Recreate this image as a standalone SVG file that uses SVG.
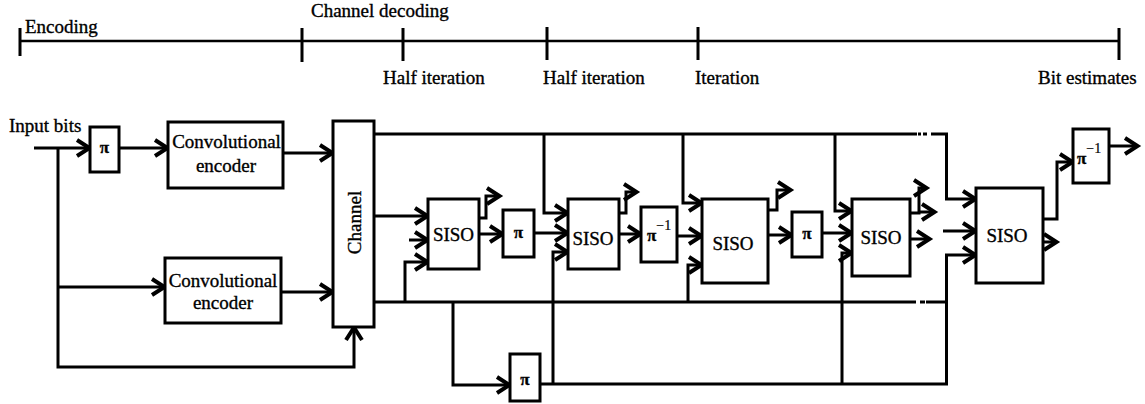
<svg xmlns="http://www.w3.org/2000/svg" width="1145" height="404" viewBox="0 0 1145 404">
<defs>
<style>
text{font-family:"Liberation Serif","Times New Roman",serif;font-size:19px;fill:#000;stroke:#000;stroke-width:0.35}
.c{text-anchor:middle}
.pi{font-size:17px;font-weight:bold}
.sup{font-size:14px;stroke-width:0.2}
.box{fill:#fff;stroke:#000;stroke-width:3}
.ln{fill:none;stroke:#000;stroke-width:3}
.ar{fill:none;stroke:#000;stroke-width:3;marker-end:url(#ah)}
.tl{fill:none;stroke:#000;stroke-width:2.5}
.tk{fill:none;stroke:#000;stroke-width:3}
</style>
<marker id="ah" markerWidth="18" markerHeight="18" refX="13.5" refY="8" orient="auto" markerUnits="userSpaceOnUse" overflow="visible">
<path d="M0.5,0 L13,8 L0.5,16" fill="none" stroke="#000" stroke-width="4"/>
</marker>
</defs>

<g id="timeline">
<path class="tl" d="M20,41 H1119"/>
<path class="tk" d="M20,28 V56 M302,28 V62 M403,28 V61 M547,27 V60 M698,27 V60 M1119,28 V60"/>
<text x="25" y="33">Encoding</text>
<text x="311" y="17">Channel decoding</text>
<text x="383" y="84">Half iteration</text>
<text x="543" y="84">Half iteration</text>
<text x="695" y="84">Iteration</text>
<text x="1038" y="84">Bit estimates</text>
</g>

<g id="connectors">
<path class="ar" d="M34,148 H90"/>
<path class="ar" d="M58,148 V367 H354 V327"/>
<path class="ar" d="M58,287 H165"/>
<path class="ar" d="M119,148 H168"/>
<path class="ar" d="M283,153 H333"/>
<path class="ar" d="M281,292 H333"/>
<path class="ln" d="M374,134 H917"/>
<path class="ln" d="M918,134 H921 M923,134 H927"/>
<path class="ar" d="M931,134 H946.5 V199 H976"/>
<path class="ar" d="M374,216 H428"/>
<path class="ar" d="M409,240 H428"/>
<path class="ln" d="M374,302 H916"/>
<path class="ln" d="M920,302 H925 M926,302 H929"/>
<path class="ln" d="M929,302 H946.5"/>
<path class="ar" d="M405,302 V262 H428"/>
<path class="ar" d="M479,218 H486 V196 H500"/>
<path class="ar" d="M479,234 H503"/>
<path class="ar" d="M534,233 H568"/>
<path class="ar" d="M544,134 V213 H568"/>
<path class="ar" d="M453,302 V385 H510"/>
<path class="ar" d="M540,384 H946.5 V255 H976"/>
<path class="ar" d="M553,384 V252 H568"/>
<path class="ar" d="M619,213 H626 V192 H637"/>
<path class="ar" d="M619,234 H641"/>
<path class="ar" d="M677,236 H702"/>
<path class="ar" d="M683,134 V203 H702"/>
<path class="ar" d="M688,302 V265 H702"/>
<path class="ar" d="M768,210 H777 V190 H791"/>
<path class="ar" d="M768,235 H792"/>
<path class="ar" d="M822,233 H852"/>
<path class="ar" d="M835,134 V211 H852"/>
<path class="ar" d="M842,384 V253 H852"/>
<path class="ar" d="M910,213 H919 V188 H927"/>
<path class="ar" d="M919,212 H935"/>
<path class="ar" d="M910,239 H930"/>
<path class="ar" d="M943,231 H976"/>
<path class="ar" d="M1043,219 H1057 V162 H1073"/>
<path class="ar" d="M1043,242 H1057"/>
<path class="ar" d="M1109,146 H1138"/>
</g>

<g id="pi1"><rect class="box" x="90" y="127" width="29" height="45"/><text class="c pi" x="104.5" y="153">π</text></g>
<g id="enc1"><rect class="box" x="168" y="122" width="115" height="66"/><text class="c" x="226.5" y="148">Convolutional</text><text class="c" x="226" y="172">encoder</text></g>
<g id="enc2"><rect class="box" x="165" y="258" width="116" height="65"/><text class="c" x="223" y="287">Convolutional</text><text class="c" x="223" y="309">encoder</text></g>
<g id="channel"><rect class="box" x="333" y="121" width="41" height="206"/><text class="c" transform="translate(361,222.5) rotate(-90)">Channel</text></g>
<g id="siso1"><rect class="box" x="428" y="199" width="51" height="70"/><text class="c" x="453.5" y="241">SISO</text></g>
<g id="pi2"><rect class="box" x="503" y="210" width="31" height="47"/><text class="c pi" x="518.5" y="238">π</text></g>
<g id="siso2"><rect class="box" x="568" y="199" width="51" height="70"/><text class="c" x="593" y="245">SISO</text></g>
<g id="pinv1"><rect class="box" x="641" y="207" width="36" height="55"/><text x="647" y="241"><tspan class="pi">π</tspan><tspan class="sup" dy="-11">−1</tspan></text></g>
<g id="siso3"><rect class="box" x="702" y="199" width="66" height="84"/><text class="c" x="733" y="250">SISO</text></g>
<g id="pi3"><rect class="box" x="792" y="212" width="30" height="45"/><text class="c pi" x="807" y="239">π</text></g>
<g id="siso4"><rect class="box" x="852" y="199" width="58" height="77"/><text class="c" x="881" y="244">SISO</text></g>
<g id="siso5"><rect class="box" x="976" y="188" width="67" height="95"/><text class="c" x="1007" y="242">SISO</text></g>
<g id="pinv2"><rect class="box" x="1073" y="129" width="36" height="54"/><text x="1077" y="164"><tspan class="pi">π</tspan><tspan class="sup" dy="-11">−1</tspan></text></g>
<g id="pi4"><rect class="box" x="510" y="354" width="30" height="47"/><text class="c pi" x="525" y="385">π</text></g>
<g id="input"><text x="9" y="132">Input bits</text></g>
</svg>
